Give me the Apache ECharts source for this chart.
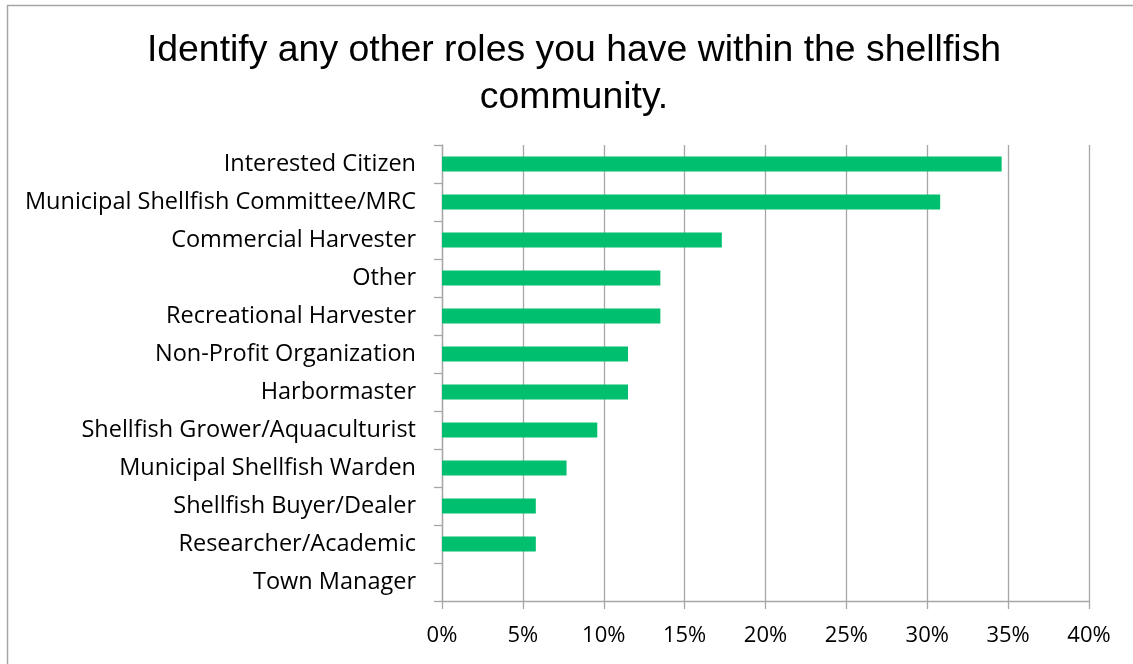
<!DOCTYPE html>
<html>
<head>
<meta charset="utf-8">
<script src="https://cdn.jsdelivr.net/npm/echarts@6/dist/echarts.min.js"></script>
<style>
  html, body { margin: 0; padding: 0; background: #ffffff; }
  #chart { width: 1133px; height: 664px; }
</style>
</head>
<body>
<div id="chart"></div>
<script>
// Survey roles, top to bottom
const roles = [
  'Interested Citizen',
  'Municipal Shellfish Committee/MRC',
  'Commercial Harvester',
  'Other',
  'Recreational Harvester',
  'Non-Profit Organization',
  'Harbormaster',
  'Shellfish Grower/Aquaculturist',
  'Municipal Shellfish Warden',
  'Shellfish Buyer/Dealer',
  'Researcher/Academic',
  'Town Manager'
];
// Share of respondents (%)
const shares = [34.6, 30.8, 17.3, 13.5, 13.5, 11.5, 11.5, 9.6, 7.7, 5.8, 5.8, 0];

const titleText = 'Identify any other roles you have within the shellfish\ncommunity.';

const chart = echarts.init(document.getElementById('chart'), null, { renderer: 'canvas' });

const gridColor = '#a6a6a6';
const labelFont = '"Open Sans", "Noto Sans", sans-serif';

chart.setOption({
  animation: false,
  backgroundColor: '#ffffff',
  title: {
    text: titleText,
    left: 574,
    top: 27,
    textAlign: 'center',
    padding: 0,
    textStyle: {
      fontFamily: '"Liberation Sans", Arial, sans-serif',
      fontSize: 37.4,
      fontWeight: 'normal',
      color: '#000000',
      lineHeight: 47
    }
  },
  graphic: [{
    type: 'rect',
    shape: { x: 7.5, y: 5.5, width: 1200, height: 800 },
    style: { fill: 'none', stroke: '#a6a6a6', lineWidth: 1.5 },
    silent: true,
    z: 0
  }],
  grid: { left: 442, right: 44, top: 145, bottom: 63, containLabel: false },
  xAxis: {
    type: 'value',
    min: 0,
    max: 40,
    interval: 5,
    axisLine: { show: true, lineStyle: { color: gridColor, width: 1.3 } },
    axisTick: { show: true, length: 8, lineStyle: { color: gridColor, width: 1.3 } },
    splitLine: { show: true, lineStyle: { color: gridColor, width: 1.3 } },
    axisLabel: {
      formatter: '{value}%',
      fontFamily: labelFont,
      fontSize: 22,
      color: '#000000',
      margin: 24
    }
  },
  yAxis: {
    type: 'category',
    data: roles,
    inverse: true,
    axisLine: { show: true, lineStyle: { color: gridColor, width: 1.3 } },
    axisTick: { show: true, length: 8, alignWithLabel: false, lineStyle: { color: gridColor, width: 1.3 } },
    splitLine: { show: false },
    axisLabel: {
      fontFamily: labelFont,
      fontSize: 23.5,
      color: '#000000',
      margin: 26
    }
  },
  series: [{
    type: 'bar',
    data: shares,
    barWidth: 15,
    itemStyle: { color: '#00c070' },
    silent: true
  }]
});
</script>
</body>
</html>
